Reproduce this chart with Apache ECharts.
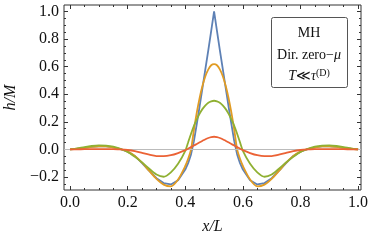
<!DOCTYPE html>
<html><head><meta charset="utf-8">
<script src="https://cdn.jsdelivr.net/npm/echarts@6/dist/echarts.min.js"></script>
<style>html,body{margin:0;padding:0;background:#fff}#c{width:370px;height:241px}</style>
</head><body><div id="c"></div>
<script>
const xs = [0,0.025,0.05,0.075,0.1,0.125,0.15,0.175,0.2,0.225,0.25,0.275,0.3,0.325,0.35,0.375,0.4,0.41,0.42,0.43,0.44,0.45,0.46,0.47,0.48,0.49,0.5,
  0.51,0.52,0.53,0.54,0.55,0.56,0.57,0.58,0.59,0.6,0.625,0.65,0.675,0.7,0.725,0.75,0.775,0.8,0.825,0.85,0.875,0.9,0.925,0.95,0.975,1.0];
const blue = [0,0.005,0.012,0.019,0.023,0.022,0.015,0.002,-0.016,-0.047,-0.099,-0.156,-0.208,-0.244,-0.254,-0.224,-0.146,-0.099,-0.036,0.06,0.185,0.315,0.45,0.585,0.72,0.86,1.0,
  0.86,0.72,0.585,0.45,0.315,0.185,0.06,-0.036,-0.099,-0.146,-0.224,-0.254,-0.244,-0.208,-0.156,-0.099,-0.047,-0.016,0.002,0.015,0.022,0.023,0.019,0.012,0.005,0];
const orange = [0,0.005,0.012,0.019,0.023,0.022,0.015,0.002,-0.016,-0.047,-0.096,-0.156,-0.213,-0.255,-0.268,-0.218,-0.12,-0.068,0.0,0.142,0.268,0.376,0.463,0.532,0.58,0.61,0.618,
  0.61,0.58,0.532,0.463,0.376,0.268,0.142,0.0,-0.068,-0.12,-0.218,-0.268,-0.255,-0.213,-0.156,-0.096,-0.047,-0.016,0.002,0.015,0.022,0.023,0.019,0.012,0.005,0];
const green = [0,0.007,0.017,0.025,0.029,0.028,0.021,0.005,-0.019,-0.054,-0.094,-0.14,-0.182,-0.198,-0.166,-0.104,-0.01,0.052,0.114,0.172,0.218,0.26,0.294,0.32,0.339,0.349,0.353,
  0.349,0.339,0.32,0.294,0.26,0.218,0.172,0.114,0.052,-0.01,-0.104,-0.166,-0.198,-0.182,-0.14,-0.094,-0.054,-0.019,0.005,0.021,0.028,0.029,0.025,0.017,0.007,0];
const red = [0,0.001,0.002,0.003,0.003,0.003,0.002,0,-0.004,-0.012,-0.025,-0.038,-0.048,-0.049,-0.042,-0.026,-0.005,0.005,0.017,0.028,0.04,0.052,0.063,0.074,0.083,0.089,0.092,
  0.089,0.083,0.074,0.063,0.052,0.04,0.028,0.017,0.005,-0.005,-0.026,-0.042,-0.049,-0.048,-0.038,-0.025,-0.012,-0.004,0,0.002,0.003,0.003,0.003,0.002,0.001,0];
const xMajor = [0,0.2,0.4,0.6,0.8,1.0];
const xMinor = [0.05,0.1,0.15,0.25,0.3,0.35,0.45,0.5,0.55,0.65,0.7,0.75,0.85,0.9,0.95];
const yMajor = [-0.2,0,0.2,0.4,0.6,0.8,1.0];
const yMinor = [-0.25,-0.15,-0.1,-0.05,0.05,0.1,0.15,0.25,0.3,0.35,0.45,0.5,0.55,0.65,0.7,0.75,0.85,0.9,0.95];
const seriesNames = ['blue','orange','green','red'];
const colors = ['#5E81B5','#E19C24','#8FB032','#EB6235'];
const legendLines = ['MH','Dir. zero\u2212\u03bc'];

const FONT = 'Liberation Serif';
const XMIN = -0.021, XMAX = 1.01, YMIN = -0.294, YMAX = 1.047;
const fmt = v => (v < 0 ? '\u2212' + Math.abs(v).toFixed(1) : v.toFixed(1));

function axis(kind, pos, vals, len, labels, extra) {
  const a = {
    type: 'value', position: pos,
    min: kind === 'x' ? XMIN : YMIN, max: kind === 'x' ? XMAX : YMAX,
    axisLine: {show: false, onZero: false}, splitLine: {show: false},
    axisTick: {show: true, inside: true, length: len, customValues: vals, lineStyle: {color: '#333', width: 1}},
    axisLabel: labels ? {show: true, customValues: vals, formatter: fmt, color: '#111', fontFamily: FONT, fontSize: 16, margin: 5} : {show: false}
  };
  return Object.assign(a, extra || {});
}

const chart = echarts.init(document.getElementById('c'), null, {renderer: 'canvas'});
const data = arr => xs.map((x, i) => [x, arr[i]]);
const S = [blue, orange, green, red];
const series = [{
  type: 'line', data: [], xAxisIndex: 0, yAxisIndex: 0, z: 1, silent: true,
  markLine: {silent: true, symbol: 'none', label: {show: false}, lineStyle: {color: '#bbb', width: 1, type: 'solid'}, data: [{yAxis: 0}]}
}].concat(S.map((arr, i) => ({
  name: seriesNames[i], type: 'line', data: data(arr), xAxisIndex: 0, yAxisIndex: 0,
  showSymbol: false, smooth: i === 0 ? false : 0.25, z: 2 + i,
  lineStyle: {color: colors[i], width: 1.8}, itemStyle: {color: colors[i]}
})));

chart.setOption({
  animation: false,
  grid: {left: 64, right: 9, top: 5, bottom: 51, show: true, borderColor: '#333', borderWidth: 1, backgroundColor: 'transparent', outerBoundsMode: 'none'},
  xAxis: [
    axis('x', 'bottom', xMajor, 4, true, {name: 'x/L', nameLocation: 'middle', nameGap: 29,
      nameTextStyle: {fontFamily: FONT, fontStyle: 'italic', fontSize: 16, color: '#111'}}),
    axis('x', 'bottom', xMinor, 2, false),
    axis('x', 'top', xMajor, 4, false),
    axis('x', 'top', xMinor, 2, false)
  ],
  yAxis: [
    axis('y', 'left', yMajor, 4, true, {name: 'h/M', nameLocation: 'middle', nameGap: 40,
      nameTextStyle: {fontFamily: FONT, fontStyle: 'italic', fontSize: 16, color: '#111'}}),
    axis('y', 'left', yMinor, 2, false),
    axis('y', 'right', yMajor, 4, false),
    axis('y', 'right', yMinor, 2, false)
  ],
  series: series,
  graphic: [{
    type: 'group', z: 100,
    children: [
      {type: 'rect', shape: {x: 271.5, y: 17.5, width: 76, height: 70, r: 2}, style: {fill: '#fff', stroke: '#555', lineWidth: 1}},
      {type: 'text', x: 309, y: 33, style: {text: legendLines[0], fontFamily: FONT, fontSize: 14, fill: '#111', align: 'center', verticalAlign: 'middle'}},
      {type: 'text', x: 309, y: 55, style: {text: 'Dir. zero\u2212{i|\u03bc}', fontFamily: FONT, fontSize: 14, fill: '#111', align: 'center', verticalAlign: 'middle',
        rich: {i: {fontFamily: FONT, fontStyle: 'italic', fontSize: 14, fill: '#111'}}}},
      {type: 'text', x: 309, y: 76, style: {text: '{i|T}{n|\u226a}{i|\u03c4}{s|(D)}', align: 'center', verticalAlign: 'middle',
        rich: {
          i: {fontFamily: FONT, fontStyle: 'italic', fontSize: 14, fill: '#111'},
          n: {fontFamily: FONT, fontSize: 14, fill: '#111'},
          s: {fontFamily: FONT, fontSize: 10, fill: '#111', verticalAlign: 'top', padding: [0, 0, 6, 0]}
        }}}
    ]
  }]
});
</script></body></html>
